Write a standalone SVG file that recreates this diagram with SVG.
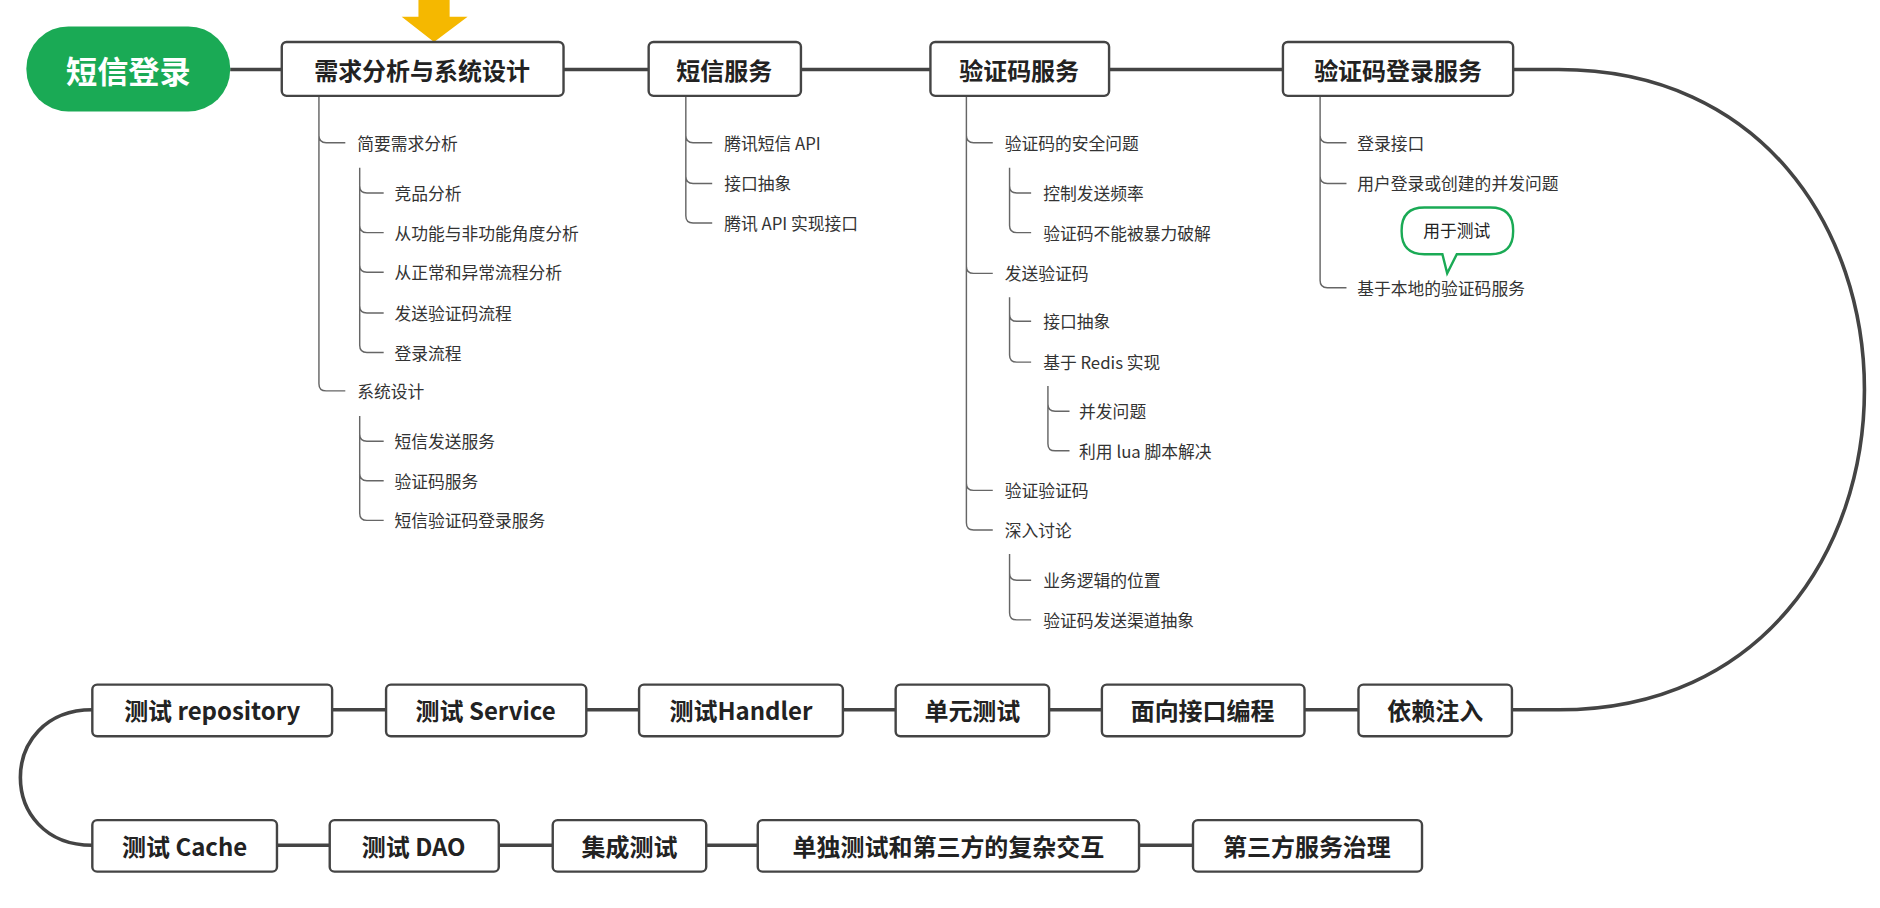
<svg xmlns="http://www.w3.org/2000/svg" width="1880" height="908" viewBox="0 0 1880 908">
<style>
.box{fill:#fff;stroke:#444;stroke-width:2}
.bt{font-family:"Noto Sans CJK SC",sans-serif;font-weight:bold;font-size:20px;fill:#222;text-anchor:middle;dominant-baseline:central}
.ct{font-family:"Noto Sans CJK SC",sans-serif;font-size:14px;fill:#333;dominant-baseline:central}
.main{fill:none;stroke:#444;stroke-width:3}
.br{fill:none;stroke:#666;stroke-width:1.2}
</style>
<rect width="1880" height="908" fill="#fff"/>
<g transform="scale(1.199)">
<g id="connectors">
<path class="main" d="M192,58H1300C1640,58 1640,592 1300,592H77"/>
<path class="main" d="M77,592C-3,592 -3,705 77,705H1186"/>
<g id="brackets">
<path class="br" d="M266,80V320Q266,326 272,326H288M266,113Q266,119 272,119H288"/>
<path class="br" d="M300,140V288Q300,294 306,294H320M300,155Q300,161 306,161H320M300,188Q300,194 306,194H320M300,221Q300,227 306,227H320M300,255Q300,261 306,261H320"/>
<path class="br" d="M300,347V428Q300,434 306,434H320M300,362Q300,368 306,368H320M300,395Q300,401 306,401H320"/>
<path class="br" d="M572,80V180Q572,186 578,186H594M572,113Q572,119 578,119H594M572,147Q572,153 578,153H594"/>
<path class="br" d="M806,80V436Q806,442 812,442H828M806,113Q806,119 812,119H828M806,222Q806,228 812,228H828M806,403Q806,409 812,409H828"/>
<path class="br" d="M842,140V188Q842,194 848,194H860M842,155Q842,161 848,161H860"/>
<path class="br" d="M842,248V296Q842,302 848,302H860M842,262Q842,268 848,268H860"/>
<path class="br" d="M874,322V370Q874,376 880,376H892M874,337Q874,343 880,343H892"/>
<path class="br" d="M842,462V511Q842,517 848,517H860M842,478Q842,484 848,484H860"/>
<path class="br" d="M1101,80V234Q1101,240 1107,240H1123M1101,113Q1101,119 1107,119H1123M1101,147Q1101,153 1107,153H1123"/>
</g>
</g>
<g id="arrow"><path d="M349,0H375V14H390L362,35L335,14H349Z" fill="#f5b800"/></g>
<g id="root"><rect x="22" y="22" width="170" height="71" rx="35" fill="#1aaa55"/><text x="107" y="58" class="bt" style="fill:#fff;font-size:26px">短信登录</text></g>
<g id="n1"><rect class="box" x="235" y="35" width="235" height="45" rx="4"/><text class="bt" x="352" y="58">需求分析与系统设计</text></g>
<g id="n2"><rect class="box" x="541" y="35" width="127" height="45" rx="4"/><text class="bt" x="604" y="58">短信服务</text></g>
<g id="n3"><rect class="box" x="776" y="35" width="149" height="45" rx="4"/><text class="bt" x="850" y="58">验证码服务</text></g>
<g id="n4"><rect class="box" x="1070" y="35" width="192" height="45" rx="4"/><text class="bt" x="1166" y="58">验证码登录服务</text></g>
<g id="r2">
<g id="n5"><rect class="box" x="77" y="571" width="200" height="43" rx="4"/><text class="bt" x="177" y="592">测试 repository</text></g>
<g id="n6"><rect class="box" x="322" y="571" width="167" height="43" rx="4"/><text class="bt" x="405" y="592">测试 Service</text></g>
<g id="n7"><rect class="box" x="533" y="571" width="170" height="43" rx="4"/><text class="bt" x="618" y="592">测试Handler</text></g>
<g id="n8"><rect class="box" x="747" y="571" width="128" height="43" rx="4"/><text class="bt" x="811" y="592">单元测试</text></g>
<g id="n9"><rect class="box" x="919" y="571" width="169" height="43" rx="4"/><text class="bt" x="1003" y="592">面向接口编程</text></g>
<g id="n10"><rect class="box" x="1133" y="571" width="128" height="43" rx="4"/><text class="bt" x="1197" y="592">依赖注入</text></g>
</g>
<g id="r3">
<g id="n11"><rect class="box" x="77" y="684" width="154" height="43" rx="4"/><text class="bt" x="154" y="705">测试 Cache</text></g>
<g id="n12"><rect class="box" x="275" y="684" width="141" height="43" rx="4"/><text class="bt" x="345" y="705">测试 DAO</text></g>
<g id="n13"><rect class="box" x="461" y="684" width="128" height="43" rx="4"/><text class="bt" x="525" y="705">集成测试</text></g>
<g id="n14"><rect class="box" x="632" y="684" width="318" height="43" rx="4"/><text class="bt" x="791" y="705">单独测试和第三方的复杂交互</text></g>
<g id="n15"><rect class="box" x="995" y="684" width="191" height="43" rx="4"/><text class="bt" x="1090" y="705">第三方服务治理</text></g>
</g>
<g id="children">
<text class="ct" x="298" y="119">简要需求分析</text>
<text class="ct" x="329" y="161">竞品分析</text>
<text class="ct" x="329" y="194">从功能与非功能角度分析</text>
<text class="ct" x="329" y="227">从正常和异常流程分析</text>
<text class="ct" x="329" y="261">发送验证码流程</text>
<text class="ct" x="329" y="294">登录流程</text>
<text class="ct" x="298" y="326">系统设计</text>
<text class="ct" x="329" y="368">短信发送服务</text>
<text class="ct" x="329" y="401">验证码服务</text>
<text class="ct" x="329" y="434">短信验证码登录服务</text>
<text class="ct" x="604" y="119">腾讯短信 API</text>
<text class="ct" x="604" y="153">接口抽象</text>
<text class="ct" x="604" y="186">腾讯 API 实现接口</text>
<text class="ct" x="838" y="119">验证码的安全问题</text>
<text class="ct" x="870" y="161">控制发送频率</text>
<text class="ct" x="870" y="194">验证码不能被暴力破解</text>
<text class="ct" x="838" y="228">发送验证码</text>
<text class="ct" x="870" y="268">接口抽象</text>
<text class="ct" x="870" y="302">基于 Redis 实现</text>
<text class="ct" x="900" y="343">并发问题</text>
<text class="ct" x="900" y="376">利用 lua 脚本解决</text>
<text class="ct" x="838" y="409">验证验证码</text>
<text class="ct" x="838" y="442">深入讨论</text>
<text class="ct" x="870" y="484">业务逻辑的位置</text>
<text class="ct" x="870" y="517">验证码发送渠道抽象</text>
<text class="ct" x="1132" y="119">登录接口</text>
<text class="ct" x="1132" y="153">用户登录或创建的并发问题</text>
<text class="ct" x="1132" y="240">基于本地的验证码服务</text>
</g>
<g id="callout">
<path d="M1188,173H1243Q1262,173 1262,192V193Q1262,212 1243,212H1215L1207,228L1203,212H1188Q1169,212 1169,193V192Q1169,173 1188,173Z" fill="#fff" stroke="#1aaa55" stroke-width="2"/>
<text class="ct" x="1215" y="192" style="text-anchor:middle;fill:#222">用于测试</text>
</g>
</g>
</svg>
